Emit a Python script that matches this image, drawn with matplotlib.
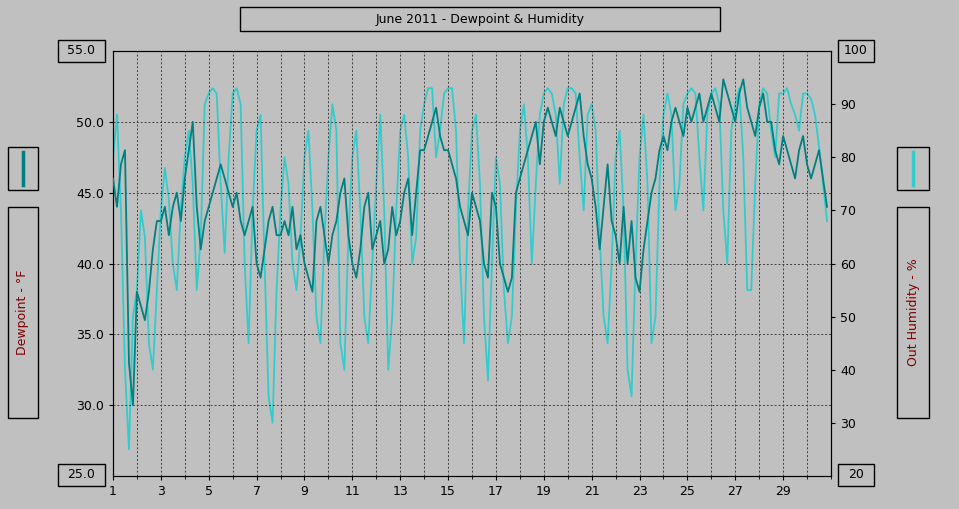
import numpy as np
import matplotlib
matplotlib.use('Agg')
import matplotlib.pyplot as plt
from matplotlib.patches import Rectangle

# readings every 4 hours, day 1 .. day 30
dewpoint = [
    46, 44, 47, 48, 33, 30,  38, 37, 36, 38, 41, 43,  43, 44, 42, 44, 45, 43,
    46, 48, 50, 44, 41, 43,  44, 45, 46, 47, 46, 45,  44, 45, 43, 42, 43, 44,
    40, 39, 41, 43, 44, 42,  42, 43, 42, 44, 41, 42,  40, 39, 38, 43, 44, 42,
    40, 42, 43, 45, 46, 42,  40, 39, 41, 44, 45, 41,  42, 43, 40, 41, 44, 42,
    43, 45, 46, 42, 45, 48,  48, 49, 50, 51, 49, 48,  48, 47, 46, 44, 43, 42,
    45, 44, 43, 40, 39, 45,  44, 40, 39, 38, 39, 45,  46, 47, 48, 49, 50, 47,
    50, 51, 50, 49, 51, 50,  49, 50, 51, 52, 49, 47,  46, 44, 41, 44, 47, 43,
    42, 40, 44, 40, 43, 39,  38, 41, 43, 45, 46, 48,  49, 48, 50, 51, 50, 49,
    51, 50, 51, 52, 50, 51,  52, 51, 50, 53, 52, 51,  50, 52, 53, 51, 50, 49,
    51, 52, 50, 50, 48, 47,  49, 48, 47, 46, 48, 49,  47, 46, 47, 48, 46, 44,
]
humidity = [
    80, 88, 70, 40, 25, 50,  55, 70, 65, 45, 40, 55,  70, 78, 72, 60, 55, 70,
    80, 85, 75, 55, 65, 90,  92, 93, 92, 75, 62, 80,  92, 93, 90, 60, 45, 70,
    85, 88, 60, 35, 30, 55,  70, 80, 75, 60, 55, 65,  80, 85, 70, 50, 45, 65,
    80, 90, 85, 45, 40, 65,  80, 85, 70, 50, 45, 60,  75, 88, 70, 40, 50, 70,
    85, 88, 80, 60, 65, 85,  90, 93, 93, 80, 85, 92,  93, 93, 85, 60, 45, 70,
    85, 88, 75, 50, 38, 60,  80, 75, 55, 45, 50, 70,  85, 90, 80, 60, 75, 88,
    92, 93, 92, 88, 75, 90,  93, 93, 92, 80, 70, 88,  90, 85, 65, 50, 45, 60,
    80, 85, 70, 40, 35, 60,  80, 88, 75, 45, 50, 75,  88, 92, 88, 70, 75, 90,
    92, 93, 92, 80, 70, 88,  92, 93, 90, 70, 60, 85,  90, 93, 80, 55, 55, 75,
    90, 93, 92, 85, 80, 92,  92, 93, 90, 88, 85, 92,  92, 91, 88, 82, 75, 68,
]
day_ticks = list(range(1, 30, 2))

bg = '#c0c0c0'
dew_col = '#008080'
hum_col = '#33cccc'

t = 1 + np.arange(len(dewpoint)) / 6.0

fig = plt.figure(figsize=(9.59, 5.09), dpi=100, facecolor=bg)
W, H = 959, 509
ax = fig.add_axes([113 / W, 33 / H, 718 / W, 425 / H], facecolor=bg)
ax2 = ax.twinx()

ax.plot(t, dewpoint, color=dew_col, linewidth=1.3, zorder=3)
ax2.plot(t, humidity, color=hum_col, linewidth=1.3)
ax.set_zorder(ax2.get_zorder() + 1)
ax.patch.set_visible(False)
ax2.patch.set_facecolor(bg)

ax.set_xlim(1, 31)
ax.set_ylim(25, 55)
ax2.set_ylim(20, 100)
ax.set_xticks(day_ticks)
ax.set_xticks(range(1, 32), minor=True)
ax.set_yticks([30, 35, 40, 45, 50])
ax.set_yticklabels(['30.0', '35.0', '40.0', '45.0', '50.0'])
ax2.set_yticks([30, 40, 50, 60, 70, 80, 90])
ax.grid(True, which='both', axis='x', color='#404040', linestyle=(0, (2, 2)), linewidth=0.7)
ax.grid(True, axis='y', color='#404040', linestyle=(0, (2, 2)), linewidth=0.7)
for a in (ax, ax2):
    a.tick_params(labelsize=9, length=3, colors='black')
    for s in a.spines.values():
        s.set_color('black')

# end-of-scale boxes
def box(x0, y0, w, h, text='', **kw):
    fig.patches.append(Rectangle((x0 / W, 1 - (y0 + h) / H), w / W, h / H,
                                 transform=fig.transFigure, facecolor=bg,
                                 edgecolor='black', linewidth=1))
    if text:
        fig.text((x0 + w / 2) / W, 1 - (y0 + h / 2) / H, text,
                 ha='center', va='center', fontsize=9, **kw)

box(240, 7, 480, 24, 'June 2011 - Dewpoint & Humidity')
box(58, 40, 47, 22, '55.0')
box(58, 464, 47, 22, '25.0')
box(838, 40, 36, 22, '100')
box(838, 464, 36, 22, '20')
box(8, 147, 30, 43)
box(8, 207, 30, 211, 'Dewpoint - °F', rotation=90, color='#800000')
box(897, 147, 32, 43)
box(897, 207, 32, 211, 'Out Humidity - %', rotation=90, color='#800000')
fig.lines.append(plt.Line2D([23 / W, 23 / W], [1 - 152 / H, 1 - 185 / H],
                            transform=fig.transFigure, color=dew_col, linewidth=2.5))
fig.lines.append(plt.Line2D([913 / W, 913 / W], [1 - 152 / H, 1 - 185 / H],
                            transform=fig.transFigure, color=hum_col, linewidth=2.5))

fig.savefig('out.png', dpi=100, facecolor=bg)
